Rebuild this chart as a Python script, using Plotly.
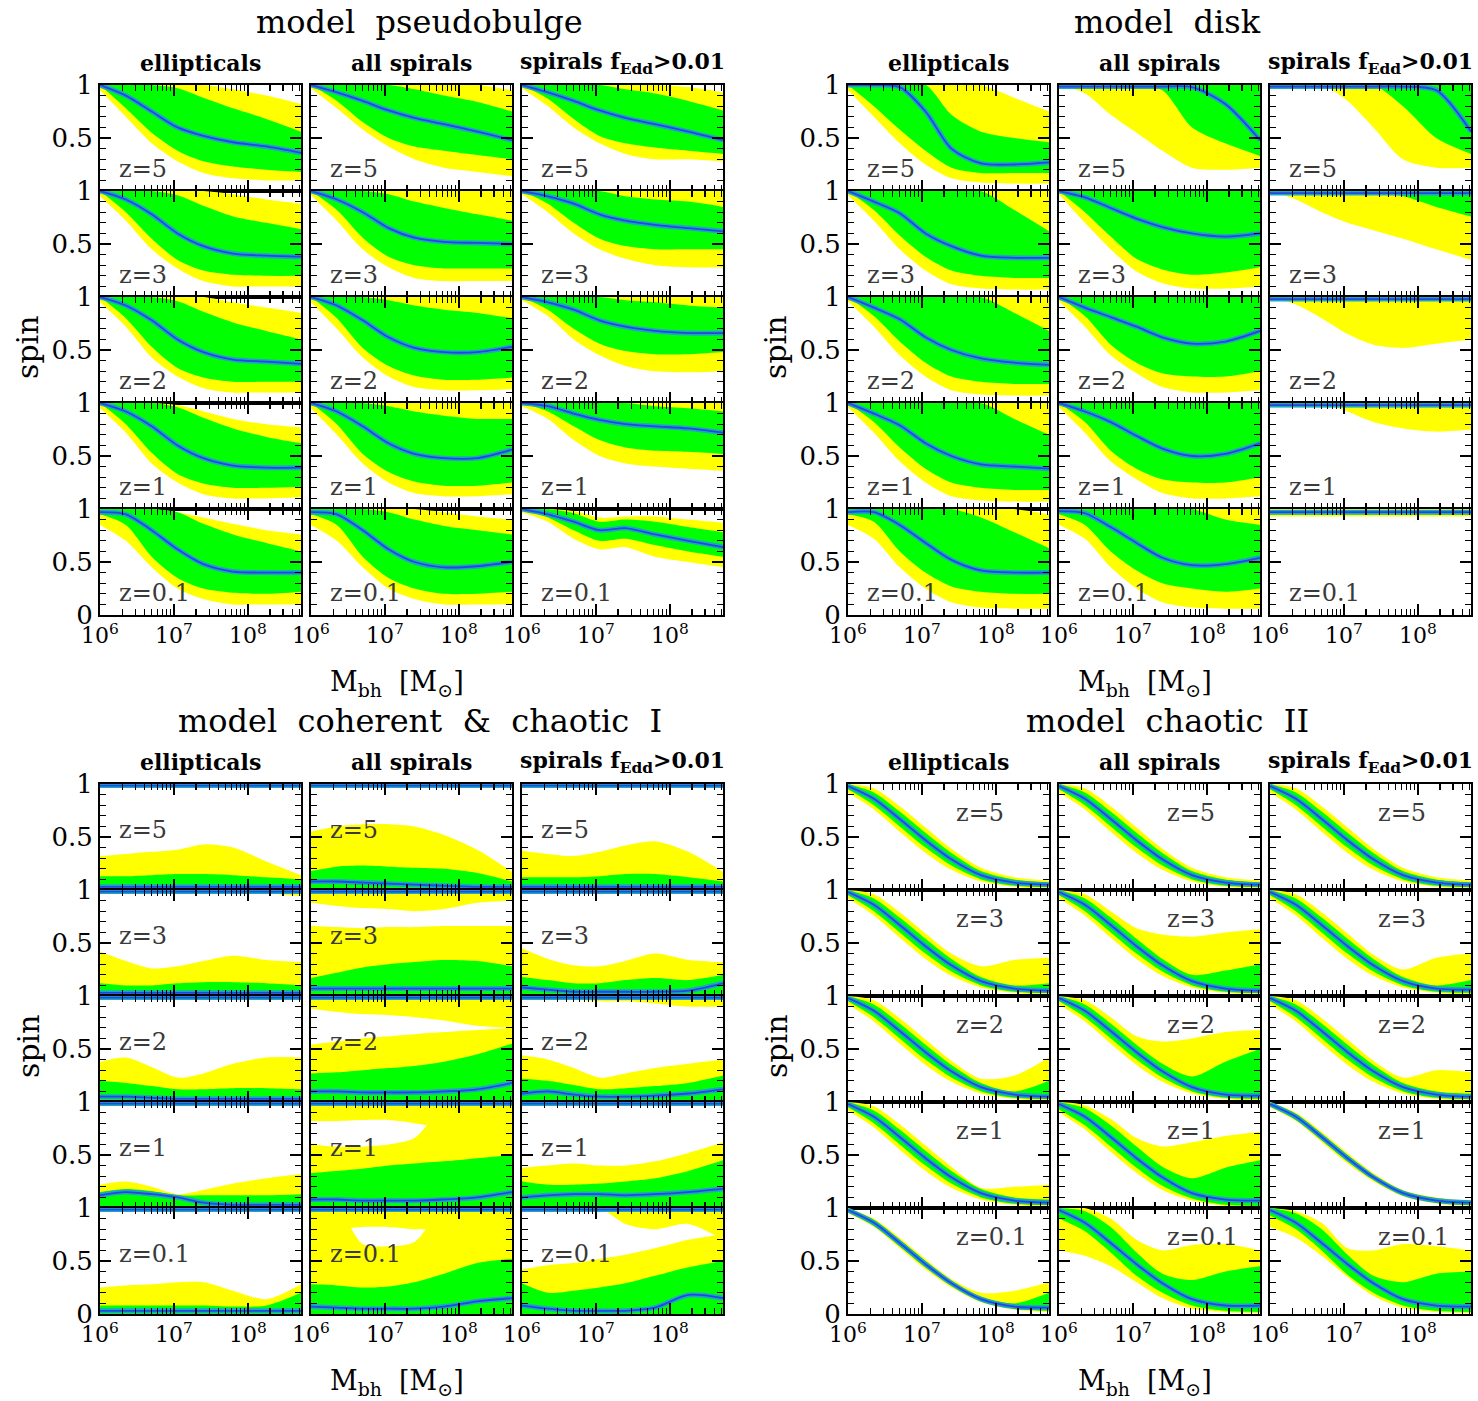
import plotly.graph_objects as go

W, H = 1478, 1401

# ---------------- data ----------------
MBH = [1.0e6, 2.24e6, 5.01e6, 1.12e7, 2.51e7, 6.31e7, 1.78e8, 5.25e8]
Z_LABELS = ["z=5", "z=3", "z=2", "z=1", "z=0.1"]
COLUMN_TITLES = ["<b>ellipticals</b>", "<b>all spirals</b>", "<b>spirals f<sub>Edd</sub>&gt;0.01</b>"]
MODEL_TITLES = ["model  pseudobulge", "model  disk", "model  coherent  &amp;  chaotic  I", "model  chaotic  II"]
X_TICKVALS = [1e6, 1e7, 1e8]
X_TICKTEXT = ["10<sup>6</sup>", "10<sup>7</sup>", "10<sup>8</sup>"]
X_MINOR = [2e6, 3e6, 4e6, 5e6, 6e6, 7e6, 8e6, 9e6, 2e7, 3e7, 4e7, 5e7, 6e7, 7e7, 8e7, 9e7,
           2e8, 3e8, 4e8, 5e8]
TOP = [1.0, 1.0, 1.0, 1.0, 1.0, 1.0, 1.0, 1.0]
COH_TOPLINE = [0.985, 0.985, 0.985, 0.985, 0.985, 0.985, 0.985, 0.985]

# panel order: z=5 (ell, all, spf), z=3 (...), z=2, z=1, z=0.1
# ---- model pseudobulge ----
PB_MED = [
    [1.0, 0.90, 0.75, 0.60, 0.52, 0.46, 0.42, 0.36],
    [1.0, 0.93, 0.85, 0.76, 0.69, 0.63, 0.56, 0.48],
    [1.0, 0.93, 0.85, 0.76, 0.69, 0.63, 0.56, 0.48],
    [1.0, 0.92, 0.78, 0.60, 0.48, 0.41, 0.39, 0.38],
    [1.0, 0.92, 0.80, 0.65, 0.56, 0.52, 0.51, 0.50],
    [1.0, 0.95, 0.88, 0.78, 0.72, 0.68, 0.65, 0.62],
    [1.0, 0.92, 0.78, 0.60, 0.48, 0.41, 0.39, 0.37],
    [1.0, 0.92, 0.78, 0.62, 0.52, 0.48, 0.48, 0.53],
    [1.0, 0.95, 0.88, 0.78, 0.72, 0.68, 0.66, 0.66],
    [1.0, 0.92, 0.78, 0.60, 0.48, 0.41, 0.39, 0.39],
    [1.0, 0.92, 0.78, 0.62, 0.52, 0.48, 0.48, 0.56],
    [1.0, 0.97, 0.90, 0.84, 0.80, 0.78, 0.76, 0.72],
    [0.97, 0.95, 0.80, 0.62, 0.48, 0.41, 0.40, 0.40],
    [0.97, 0.95, 0.80, 0.62, 0.50, 0.45, 0.46, 0.50],
    [1.0, 0.95, 0.88, 0.80, 0.82, 0.76, 0.70, 0.64],
]
PB_G_HI = [
    [1, 1, 1, 0.97, 0.88, 0.78, 0.68, 0.56],
    [1, 1, 1, 1, 0.96, 0.90, 0.84, 0.75],
    [1, 1, 1, 1, 0.96, 0.92, 0.85, 0.76],
    [1, 1, 1, 0.96, 0.86, 0.76, 0.70, 0.64],
    [1, 1, 1, 0.97, 0.90, 0.84, 0.78, 0.72],
    [1, 1, 1, 1, 0.95, 0.92, 0.90, 0.85],
    [1, 1, 1, 0.96, 0.86, 0.76, 0.68, 0.60],
    [1, 1, 1, 0.97, 0.92, 0.88, 0.85, 0.80],
    [1, 1, 1, 1, 0.97, 0.95, 0.92, 0.90],
    [1, 1, 1, 0.96, 0.86, 0.76, 0.68, 0.62],
    [1, 1, 1, 0.97, 0.92, 0.88, 0.85, 0.85],
    [1, 1, 1, 1, 1, 0.97, 0.95, 0.92],
    [1, 1, 1, 0.97, 0.86, 0.76, 0.68, 0.60],
    [1, 1, 1, 0.97, 0.90, 0.84, 0.80, 0.76],
    [1, 1, 0.96, 0.88, 0.90, 0.88, 0.83, 0.78],
]
PB_G_LO = [
    [1, 0.78, 0.55, 0.38, 0.28, 0.23, 0.20, 0.18],
    [1, 0.85, 0.65, 0.50, 0.42, 0.38, 0.34, 0.30],
    [1, 0.87, 0.68, 0.52, 0.45, 0.41, 0.38, 0.35],
    [1, 0.80, 0.55, 0.35, 0.25, 0.21, 0.20, 0.20],
    [1, 0.82, 0.56, 0.38, 0.30, 0.27, 0.27, 0.27],
    [1, 0.88, 0.70, 0.55, 0.48, 0.45, 0.45, 0.45],
    [1, 0.80, 0.53, 0.33, 0.24, 0.20, 0.20, 0.20],
    [1, 0.80, 0.52, 0.35, 0.26, 0.22, 0.22, 0.24],
    [1, 0.88, 0.70, 0.56, 0.49, 0.46, 0.46, 0.48],
    [1, 0.80, 0.53, 0.33, 0.24, 0.20, 0.20, 0.21],
    [1, 0.80, 0.52, 0.35, 0.26, 0.22, 0.22, 0.25],
    [1, 0.92, 0.78, 0.65, 0.58, 0.55, 0.54, 0.52],
    [0.95, 0.85, 0.55, 0.35, 0.25, 0.21, 0.20, 0.22],
    [0.95, 0.85, 0.55, 0.35, 0.25, 0.20, 0.20, 0.22],
    [1, 0.92, 0.80, 0.70, 0.72, 0.66, 0.60, 0.55],
]
PB_Y_HI = [
    [1, 1, 1, 1, 1, 0.96, 0.90, 0.82],
    [1, 1, 1, 1, 1, 1, 1, 0.95],
    [1, 1, 1, 1, 1, 1, 0.98, 0.93],
    [1, 1, 1, 1, 1, 0.97, 0.92, 0.88],
    [1, 1, 1, 1, 1, 1, 1, 1],
    [1, 1, 1, 1, 1, 1, 1, 1],
    [1, 1, 1, 1, 1, 0.95, 0.90, 0.85],
    [1, 1, 1, 1, 1, 1, 1, 1],
    [1, 1, 1, 1, 1, 1, 1, 1],
    [1, 1, 1, 0.98, 0.92, 0.85, 0.80, 0.77],
    [1, 1, 1, 1, 1, 1, 1, 1],
    [1, 1, 1, 1, 1, 1, 1, 1],
    [1, 1, 1, 0.97, 0.92, 0.86, 0.80, 0.76],
    [1, 1, 1, 1, 1, 0.97, 0.93, 0.90],
    [1, 1, 0.98, 0.92, 0.93, 0.93, 0.90, 0.87],
]
PB_Y_LO = [
    [0.95, 0.70, 0.45, 0.28, 0.17, 0.12, 0.10, 0.10],
    [0.97, 0.78, 0.58, 0.42, 0.30, 0.22, 0.18, 0.14],
    [0.97, 0.80, 0.60, 0.45, 0.35, 0.30, 0.30, 0.28],
    [0.95, 0.72, 0.45, 0.27, 0.15, 0.10, 0.10, 0.10],
    [0.96, 0.72, 0.45, 0.28, 0.18, 0.15, 0.15, 0.15],
    [0.97, 0.80, 0.60, 0.45, 0.36, 0.30, 0.28, 0.28],
    [0.95, 0.72, 0.43, 0.25, 0.14, 0.10, 0.10, 0.10],
    [0.95, 0.70, 0.43, 0.25, 0.15, 0.12, 0.12, 0.13],
    [0.97, 0.82, 0.60, 0.45, 0.35, 0.30, 0.29, 0.30],
    [0.95, 0.72, 0.43, 0.25, 0.14, 0.10, 0.10, 0.11],
    [0.95, 0.70, 0.43, 0.25, 0.15, 0.12, 0.12, 0.14],
    [0.97, 0.85, 0.65, 0.50, 0.43, 0.40, 0.38, 0.36],
    [0.85, 0.70, 0.45, 0.25, 0.15, 0.10, 0.10, 0.10],
    [0.85, 0.70, 0.45, 0.25, 0.15, 0.10, 0.10, 0.10],
    [0.97, 0.88, 0.72, 0.62, 0.64, 0.55, 0.50, 0.45],
]

# ---- model disk ----
DK_MED = [
    [1.0, 1.0, 0.98, 0.75, 0.40, 0.26, 0.25, 0.27],
    [0.985, 0.985, 0.985, 0.985, 0.985, 0.98, 0.82, 0.48],
    [0.985, 0.985, 0.985, 0.985, 0.985, 0.985, 0.95, 0.56],
    [1.0, 0.90, 0.79, 0.60, 0.48, 0.39, 0.37, 0.37],
    [1.0, 0.94, 0.84, 0.74, 0.66, 0.60, 0.57, 0.60],
    [0.98, 0.98, 0.98, 0.98, 0.98, 0.98, 0.98, 0.98],
    [1.0, 0.90, 0.79, 0.62, 0.50, 0.42, 0.38, 0.36],
    [1.0, 0.90, 0.81, 0.72, 0.62, 0.56, 0.58, 0.68],
    [0.98, 0.98, 0.98, 0.98, 0.98, 0.98, 0.98, 0.98],
    [1.0, 0.90, 0.79, 0.62, 0.50, 0.42, 0.40, 0.38],
    [1.0, 0.92, 0.82, 0.69, 0.57, 0.50, 0.52, 0.62],
    [0.98, 0.98, 0.98, 0.98, 0.98, 0.98, 0.98, 0.98],
    [0.97, 0.97, 0.85, 0.68, 0.52, 0.42, 0.40, 0.40],
    [0.98, 0.96, 0.83, 0.68, 0.54, 0.47, 0.48, 0.54],
    [0.97, 0.97, 0.97, 0.97, 0.97, 0.97, 0.97, 0.97],
]
DK_G_HI = [
    [1, 1, 1, 1, 0.72, 0.56, 0.50, 0.46],
    [1, 1, 1, 1, 1, 1, 1, 1],
    [1, 1, 1, 1, 1, 1, 1, 1],
    [1, 1, 1, 1, 1, 1, 0.82, 0.62],
    [1, 1, 1, 1, 1, 1, 1, 1],
    [1, 1, 1, 1, 1, 1, 1, 1],
    [1, 1, 1, 1, 1, 1, 0.85, 0.68],
    [1, 1, 1, 1, 1, 1, 1, 1],
    [1, 1, 1, 1, 1, 1, 1, 1],
    [1, 1, 1, 1, 1, 1, 0.85, 0.70],
    [1, 1, 1, 1, 1, 1, 1, 1],
    [1, 1, 1, 1, 1, 1, 1, 1],
    [1, 1, 1, 1, 1, 0.92, 0.78, 0.63],
    [1, 1, 1, 1, 1, 1, 0.90, 0.85],
    [0.99, 0.99, 0.99, 0.99, 0.99, 0.99, 0.99, 0.99],
]
DK_G_LO = [
    [1, 0.80, 0.58, 0.38, 0.22, 0.17, 0.17, 0.17],
    [1, 1, 1, 1, 0.95, 0.60, 0.45, 0.33],
    [1, 1, 1, 1, 1, 0.80, 0.50, 0.35],
    [1, 0.82, 0.58, 0.38, 0.25, 0.20, 0.18, 0.18],
    [1, 0.80, 0.57, 0.36, 0.26, 0.21, 0.23, 0.28],
    [1, 1, 1, 1, 0.98, 0.95, 0.85, 0.76],
    [1, 0.82, 0.58, 0.38, 0.25, 0.20, 0.18, 0.18],
    [1, 0.82, 0.55, 0.38, 0.28, 0.25, 0.25, 0.30],
    [0.97, 0.97, 0.97, 0.97, 0.97, 0.97, 0.97, 0.97],
    [1, 0.82, 0.58, 0.38, 0.25, 0.20, 0.18, 0.18],
    [1, 0.82, 0.55, 0.38, 0.28, 0.25, 0.25, 0.30],
    [0.96, 0.96, 0.96, 0.96, 0.96, 0.96, 0.96, 0.96],
    [0.95, 0.88, 0.60, 0.40, 0.27, 0.22, 0.20, 0.20],
    [0.95, 0.85, 0.60, 0.42, 0.30, 0.25, 0.22, 0.25],
    [0.95, 0.95, 0.95, 0.95, 0.95, 0.95, 0.95, 0.95],
]
DK_Y_HI = [
    [1, 1, 1, 1, 1, 1, 0.88, 0.75],
    [1, 1, 1, 1, 1, 1, 1, 1],
    [1, 1, 1, 1, 1, 1, 1, 1],
    [1, 1, 1, 1, 1, 1, 1, 1],
    [1, 1, 1, 1, 1, 1, 1, 1],
    [1, 1, 1, 1, 1, 1, 1, 1],
    [1, 1, 1, 1, 1, 1, 1, 1],
    [1, 1, 1, 1, 1, 1, 1, 1],
    [1, 1, 1, 1, 1, 1, 1, 1],
    [1, 1, 1, 1, 1, 1, 1, 1],
    [1, 1, 1, 1, 1, 1, 1, 1],
    [1, 1, 1, 1, 1, 1, 1, 1],
    [1, 1, 1, 1, 1, 1, 1, 0.95],
    [1, 1, 1, 1, 1, 1, 1, 1],
    [1, 1, 1, 1, 1, 1, 1, 1],
]
DK_Y_LO = [
    [0.95, 0.70, 0.45, 0.25, 0.12, 0.08, 0.07, 0.07],
    [1, 0.92, 0.72, 0.55, 0.38, 0.22, 0.20, 0.22],
    [1, 1, 1, 0.85, 0.60, 0.30, 0.22, 0.22],
    [0.96, 0.72, 0.45, 0.25, 0.12, 0.08, 0.07, 0.07],
    [0.97, 0.70, 0.45, 0.24, 0.13, 0.08, 0.08, 0.10],
    [1, 0.92, 0.80, 0.70, 0.63, 0.55, 0.45, 0.35],
    [0.96, 0.72, 0.45, 0.25, 0.12, 0.08, 0.07, 0.07],
    [0.96, 0.72, 0.45, 0.28, 0.15, 0.10, 0.10, 0.12],
    [1, 0.93, 0.80, 0.65, 0.55, 0.52, 0.56, 0.60],
    [0.96, 0.72, 0.45, 0.25, 0.12, 0.08, 0.07, 0.07],
    [0.96, 0.72, 0.45, 0.28, 0.15, 0.10, 0.10, 0.12],
    [1, 1, 1, 0.92, 0.82, 0.76, 0.73, 0.75],
    [0.85, 0.72, 0.45, 0.25, 0.12, 0.07, 0.06, 0.06],
    [0.85, 0.72, 0.45, 0.25, 0.12, 0.07, 0.06, 0.06],
    [0.93, 0.93, 0.93, 0.93, 0.93, 0.93, 0.93, 0.93],
]

# ---- model coherent & chaotic I ----
CO_MED = [
    [0.03, 0.03, 0.03, 0.03, 0.03, 0.03, 0.03, 0.03],
    [0.08, 0.08, 0.07, 0.06, 0.05, 0.04, 0.03, 0.03],
    [0.03, 0.03, 0.03, 0.03, 0.03, 0.03, 0.03, 0.03],
    [0.03, 0.03, 0.03, 0.03, 0.03, 0.03, 0.03, 0.03],
    [0.07, 0.07, 0.07, 0.07, 0.07, 0.07, 0.07, 0.07],
    [0.08, 0.06, 0.04, 0.04, 0.04, 0.04, 0.05, 0.12],
    [0.05, 0.05, 0.04, 0.03, 0.03, 0.03, 0.03, 0.03],
    [0.10, 0.10, 0.09, 0.09, 0.09, 0.10, 0.12, 0.18],
    [0.08, 0.10, 0.07, 0.05, 0.05, 0.06, 0.08, 0.12],
    [0.12, 0.15, 0.13, 0.10, 0.05, 0.03, 0.03, 0.03],
    [0.08, 0.08, 0.07, 0.07, 0.07, 0.08, 0.10, 0.15],
    [0.10, 0.12, 0.13, 0.13, 0.12, 0.13, 0.15, 0.18],
    [0.03, 0.03, 0.03, 0.03, 0.03, 0.03, 0.03, 0.03],
    [0.07, 0.06, 0.05, 0.05, 0.05, 0.07, 0.12, 0.15],
    [0.08, 0.05, 0.03, 0.03, 0.03, 0.06, 0.18, 0.15],
]
CO_G_HI = [
    [0.13, 0.13, 0.14, 0.15, 0.15, 0.14, 0.12, 0.10],
    [0.18, 0.22, 0.23, 0.22, 0.21, 0.20, 0.16, 0.08],
    [0.12, 0.12, 0.12, 0.13, 0.15, 0.15, 0.12, 0.08],
    [0.12, 0.10, 0.10, 0.12, 0.13, 0.13, 0.12, 0.10],
    [0.17, 0.22, 0.27, 0.30, 0.32, 0.34, 0.33, 0.28],
    [0.18, 0.15, 0.12, 0.12, 0.15, 0.17, 0.15, 0.20],
    [0.20, 0.18, 0.15, 0.12, 0.12, 0.13, 0.13, 0.12],
    [0.27, 0.28, 0.30, 0.32, 0.34, 0.38, 0.45, 0.55],
    [0.22, 0.20, 0.16, 0.12, 0.13, 0.15, 0.18, 0.25],
    [0.15, 0.18, 0.16, 0.12, 0.12, 0.12, 0.12, 0.13],
    [0.33, 0.35, 0.37, 0.40, 0.42, 0.44, 0.47, 0.50],
    [0.25, 0.22, 0.22, 0.23, 0.25, 0.28, 0.35, 0.45],
    [0.08, 0.08, 0.08, 0.08, 0.08, 0.07, 0.08, 0.20],
    [0.28, 0.27, 0.25, 0.26, 0.30, 0.38, 0.48, 0.52],
    [0.29, 0.20, 0.22, 0.25, 0.29, 0.36, 0.44, 0.50],
]
CO_G_LO = [
    [0, 0, 0, 0, 0, 0, 0, 0], [0, 0, 0, 0, 0, 0, 0, 0], [0, 0, 0, 0, 0, 0, 0, 0],
    [0, 0, 0, 0, 0, 0, 0, 0], [0, 0, 0, 0, 0, 0, 0, 0], [0, 0, 0, 0, 0, 0, 0, 0],
    [0, 0, 0, 0, 0, 0, 0, 0], [0, 0, 0, 0, 0, 0, 0, 0], [0, 0, 0, 0, 0, 0, 0, 0],
    [0, 0, 0, 0, 0, 0, 0, 0], [0, 0, 0, 0, 0, 0, 0, 0], [0, 0, 0, 0, 0, 0, 0, 0],
    [0, 0, 0, 0, 0, 0, 0, 0], [0, 0, 0, 0, 0, 0, 0, 0], [0, 0, 0, 0, 0, 0, 0, 0],
]
CO_Y_HI = [
    [0.32, 0.34, 0.36, 0.38, 0.43, 0.40, 0.27, 0.14],
    [0.55, 0.60, 0.62, 0.62, 0.60, 0.52, 0.38, 0.17],
    [0.37, 0.34, 0.32, 0.36, 0.42, 0.46, 0.36, 0.17],
    [0.42, 0.33, 0.26, 0.28, 0.33, 0.38, 0.34, 0.32],
    [0.66, 0.65, 0.64, 0.65, 0.65, 0.66, 0.66, 0.66],
    [0.45, 0.35, 0.29, 0.28, 0.33, 0.40, 0.34, 0.32],
    [0.38, 0.42, 0.33, 0.23, 0.27, 0.36, 0.42, 0.42],
    [0.54, 0.57, 0.60, 0.62, 0.64, 0.66, 0.68, 0.70],
    [0.44, 0.40, 0.32, 0.23, 0.27, 0.32, 0.36, 0.40],
    [0.22, 0.25, 0.20, 0.13, 0.17, 0.23, 0.28, 0.32],
    [0.60, 0.58, 0.58, 0.60, 0.66, 0.95, 1.0, 1.0],
    [0.38, 0.40, 0.42, 0.40, 0.40, 0.44, 0.52, 0.62],
    [0.25, 0.27, 0.28, 0.30, 0.30, 0.22, 0.14, 0.28],
    [1.0, 1.0, 0.66, 0.64, 0.68, 1.0, 1.0, 1.0],
    [0.42, 0.46, 0.48, 0.52, 0.56, 0.62, 0.70, 0.75],
]
CO_Y_LO = CO_G_LO
# lower edge of the upper yellow region (1 = no upper region)
CO_Y2_LO = [
    [1, 1, 1, 1, 1, 1, 1, 1],
    [1, 1, 1, 1, 1, 1, 1, 1],
    [1, 1, 1, 1, 1, 1, 1, 1],
    [1, 1, 1, 1, 1, 1, 0.97, 0.94],
    [0.88, 0.85, 0.83, 0.82, 0.80, 0.82, 0.88, 0.90],
    [1, 1, 1, 1, 1, 1, 1, 1],
    [1, 1, 1, 1, 1, 1, 1, 1],
    [0.88, 0.85, 0.83, 0.82, 0.80, 0.77, 0.72, 0.70],
    [1, 1, 0.97, 0.95, 0.95, 0.93, 0.90, 0.90],
    [1, 1, 1, 1, 1, 1, 1, 1],
    [0.82, 0.82, 0.83, 0.83, 0.80, 0.75, 0.70, 0.70],
    [1, 1, 1, 1, 1, 1, 1, 1],
    [1, 1, 1, 1, 1, 1, 1, 1],
    [0.80, 0.80, 0.82, 0.82, 0.80, 0.80, 0.80, 0.80],
    [1, 1, 1, 1, 0.85, 0.80, 0.85, 0.70],
]

# ---- model chaotic II ----
CH_MED = [
    [0.98, 0.86, 0.67, 0.47, 0.29, 0.14, 0.07, 0.05],
    [0.98, 0.86, 0.67, 0.47, 0.29, 0.14, 0.07, 0.05],
    [0.98, 0.86, 0.67, 0.47, 0.29, 0.14, 0.07, 0.05],
    [0.98, 0.86, 0.67, 0.47, 0.29, 0.14, 0.07, 0.05],
    [0.98, 0.86, 0.67, 0.47, 0.29, 0.14, 0.07, 0.05],
    [0.98, 0.86, 0.67, 0.47, 0.29, 0.14, 0.07, 0.06],
    [0.98, 0.86, 0.67, 0.47, 0.29, 0.14, 0.07, 0.05],
    [0.98, 0.86, 0.67, 0.47, 0.29, 0.14, 0.07, 0.06],
    [0.98, 0.86, 0.67, 0.47, 0.29, 0.14, 0.07, 0.05],
    [0.98, 0.86, 0.67, 0.47, 0.29, 0.14, 0.07, 0.05],
    [0.98, 0.86, 0.67, 0.47, 0.29, 0.14, 0.08, 0.07],
    [0.98, 0.86, 0.67, 0.47, 0.29, 0.14, 0.07, 0.05],
    [0.98, 0.86, 0.67, 0.47, 0.29, 0.14, 0.07, 0.06],
    [0.98, 0.86, 0.67, 0.47, 0.29, 0.14, 0.08, 0.08],
    [0.98, 0.86, 0.67, 0.47, 0.29, 0.14, 0.08, 0.07],
]
CH_G_HI = [
    [1.0, 0.92, 0.74, 0.54, 0.35, 0.18, 0.10, 0.07],
    [1.0, 0.92, 0.74, 0.54, 0.35, 0.18, 0.10, 0.07],
    [1.0, 0.92, 0.74, 0.54, 0.35, 0.18, 0.10, 0.07],
    [1.0, 0.92, 0.74, 0.54, 0.35, 0.18, 0.10, 0.12],
    [1.0, 0.92, 0.74, 0.54, 0.35, 0.20, 0.24, 0.30],
    [1.0, 0.92, 0.74, 0.54, 0.35, 0.18, 0.10, 0.15],
    [1.0, 0.92, 0.74, 0.54, 0.35, 0.18, 0.10, 0.20],
    [1.0, 0.92, 0.74, 0.54, 0.36, 0.24, 0.38, 0.50],
    [1.0, 0.92, 0.74, 0.54, 0.35, 0.18, 0.10, 0.08],
    [1.0, 0.92, 0.74, 0.54, 0.35, 0.18, 0.10, 0.08],
    [1.0, 0.94, 0.78, 0.58, 0.39, 0.28, 0.38, 0.45],
    [0.99, 0.89, 0.70, 0.50, 0.31, 0.16, 0.09, 0.06],
    [0.99, 0.89, 0.70, 0.50, 0.31, 0.16, 0.10, 0.20],
    [1.0, 0.97, 0.82, 0.58, 0.38, 0.32, 0.40, 0.45],
    [1.0, 0.95, 0.80, 0.56, 0.36, 0.30, 0.38, 0.40],
]
CH_G_LO = [
    [0.95, 0.80, 0.60, 0.40, 0.23, 0.10, 0.04, 0.03],
    [0.95, 0.80, 0.60, 0.40, 0.23, 0.10, 0.04, 0.03],
    [0.95, 0.80, 0.60, 0.40, 0.23, 0.10, 0.04, 0.03],
    [0.95, 0.80, 0.60, 0.40, 0.23, 0.10, 0.04, 0.03],
    [0.95, 0.80, 0.60, 0.40, 0.23, 0.10, 0.04, 0.03],
    [0.95, 0.80, 0.60, 0.40, 0.23, 0.10, 0.04, 0.03],
    [0.95, 0.80, 0.60, 0.40, 0.23, 0.10, 0.04, 0.03],
    [0.95, 0.80, 0.60, 0.40, 0.23, 0.10, 0.04, 0.03],
    [0.95, 0.80, 0.60, 0.40, 0.23, 0.10, 0.04, 0.03],
    [0.95, 0.80, 0.60, 0.40, 0.23, 0.10, 0.04, 0.03],
    [0.93, 0.78, 0.58, 0.38, 0.21, 0.09, 0.03, 0.02],
    [0.96, 0.83, 0.64, 0.44, 0.27, 0.12, 0.05, 0.03],
    [0.96, 0.83, 0.64, 0.44, 0.27, 0.12, 0.05, 0.03],
    [0.90, 0.78, 0.58, 0.36, 0.20, 0.08, 0.03, 0.02],
    [0.93, 0.80, 0.60, 0.37, 0.20, 0.08, 0.03, 0.02],
]
CH_Y_HI = [
    [1.0, 0.96, 0.79, 0.59, 0.39, 0.21, 0.12, 0.09],
    [1.0, 0.96, 0.79, 0.59, 0.39, 0.21, 0.12, 0.09],
    [1.0, 0.96, 0.79, 0.59, 0.39, 0.21, 0.12, 0.09],
    [1.0, 0.96, 0.79, 0.59, 0.40, 0.28, 0.34, 0.36],
    [1.0, 0.96, 0.80, 0.64, 0.58, 0.56, 0.60, 0.63],
    [1.0, 0.96, 0.79, 0.59, 0.39, 0.25, 0.36, 0.40],
    [1.0, 0.96, 0.79, 0.59, 0.39, 0.22, 0.25, 0.42],
    [1.0, 0.96, 0.80, 0.62, 0.57, 0.60, 0.66, 0.68],
    [1.0, 0.96, 0.79, 0.59, 0.39, 0.23, 0.30, 0.28],
    [1.0, 0.96, 0.79, 0.59, 0.39, 0.19, 0.20, 0.22],
    [1.0, 0.97, 0.84, 0.66, 0.58, 0.62, 0.68, 0.72],
    [1.0, 0.90, 0.72, 0.52, 0.33, 0.17, 0.10, 0.07],
    [1.0, 0.90, 0.72, 0.52, 0.33, 0.20, 0.22, 0.30],
    [1.0, 1.0, 0.90, 0.70, 0.60, 0.65, 0.66, 0.60],
    [1.0, 0.97, 0.86, 0.62, 0.60, 0.66, 0.64, 0.60],
]
CH_Y_LO = [
    [0.92, 0.76, 0.55, 0.35, 0.19, 0.08, 0.03, 0.01],
    [0.92, 0.76, 0.55, 0.35, 0.19, 0.08, 0.03, 0.01],
    [0.92, 0.76, 0.55, 0.35, 0.19, 0.08, 0.03, 0.01],
    [0.92, 0.76, 0.55, 0.35, 0.19, 0.08, 0.03, 0.01],
    [0.92, 0.76, 0.55, 0.35, 0.19, 0.08, 0.03, 0.01],
    [0.92, 0.76, 0.55, 0.35, 0.19, 0.08, 0.03, 0.01],
    [0.92, 0.76, 0.55, 0.35, 0.19, 0.08, 0.03, 0.01],
    [0.92, 0.76, 0.55, 0.35, 0.19, 0.08, 0.03, 0.01],
    [0.92, 0.76, 0.55, 0.35, 0.19, 0.08, 0.03, 0.01],
    [0.92, 0.76, 0.55, 0.35, 0.19, 0.08, 0.03, 0.01],
    [0.90, 0.74, 0.53, 0.33, 0.17, 0.07, 0.02, 0.01],
    [0.95, 0.82, 0.62, 0.42, 0.25, 0.11, 0.04, 0.02],
    [0.95, 0.82, 0.62, 0.42, 0.25, 0.11, 0.04, 0.02],
    [0.60, 0.55, 0.45, 0.30, 0.15, 0.05, 0.02, 0.01],
    [0.82, 0.72, 0.55, 0.35, 0.17, 0.06, 0.02, 0.01],
]

# ---------------- layout helpers ----------------
YELLOW = "#ffff00"
GREEN = "#00ff00"
TEAL = "#1aa6c4"
BLUE = "#2546e0"
FONT = "DejaVu Serif"

COL_LEFT = {"L": [100, 311, 522], "R": [848, 1059, 1270]}
PW, PH = 201, 106
ROW_TOP = {"T": 85, "B": 784}

models = [
    dict(key="pb", side="L", vert="T", title=MODEL_TITLES[0], med=PB_MED, ghi=PB_G_HI, glo=PB_G_LO,
         yhi=PB_Y_HI, ylo=PB_Y_LO, y2=None, zpos="bl"),
    dict(key="dk", side="R", vert="T", title=MODEL_TITLES[1], med=DK_MED, ghi=DK_G_HI, glo=DK_G_LO,
         yhi=DK_Y_HI, ylo=DK_Y_LO, y2=None, zpos="bl"),
    dict(key="co", side="L", vert="B", title=MODEL_TITLES[2], med=CO_MED, ghi=CO_G_HI, glo=CO_G_LO,
         yhi=CO_Y_HI, ylo=CO_Y_LO, y2=CO_Y2_LO, zpos="tl"),
    dict(key="ch", side="R", vert="B", title=MODEL_TITLES[3], med=CH_MED, ghi=CH_G_HI, glo=CH_G_LO,
         yhi=CH_Y_HI, ylo=CH_Y_LO, y2=None, zpos="tr"),
]

fig = go.Figure()
layout = dict(width=W, height=H, margin=dict(l=0, r=0, t=0, b=0, pad=0, autoexpand=False),
              autosize=False, paper_bgcolor="white", plot_bgcolor="white", showlegend=False)
annotations = []


def px_x(x):
    return x / W


def px_y(y):
    return 1 - y / H


def band(xa, ya, lo, hi, color):
    fig.add_trace(go.Scatter(x=MBH, y=lo, xaxis=xa, yaxis=ya, mode="lines",
                             line=dict(width=0, shape="spline", smoothing=0.8),
                             hoverinfo="skip"))
    fig.add_trace(go.Scatter(x=MBH, y=hi, xaxis=xa, yaxis=ya, mode="lines", fill="tonexty",
                             fillcolor=color, line=dict(width=0, shape="spline", smoothing=0.8),
                             hoverinfo="skip"))


def curve(xa, ya, vals):
    fig.add_trace(go.Scatter(x=MBH, y=vals, xaxis=xa, yaxis=ya, mode="lines",
                             line=dict(width=5, color=TEAL, shape="spline", smoothing=0.8),
                             hoverinfo="skip"))
    fig.add_trace(go.Scatter(x=MBH, y=vals, xaxis=xa, yaxis=ya, mode="lines",
                             line=dict(width=1.8, color=BLUE, shape="spline", smoothing=0.8),
                             hoverinfo="skip"))


n = 0
for m in models:
    lefts = COL_LEFT[m["side"]]
    top0 = ROW_TOP[m["vert"]]
    for r in range(5):
        for c in range(3):
            n += 1
            p = r * 3 + c
            xa = "x" if n == 1 else f"x{n}"
            ya = "y" if n == 1 else f"y{n}"
            x0 = lefts[c]
            t = top0 + r * PH
            bottom_row = (r == 4)
            layout["xaxis" if n == 1 else f"xaxis{n}"] = dict(
                domain=[px_x(x0), px_x(x0 + PW)], anchor=ya, type="log",
                range=[6.0, 8.72], showgrid=False, zeroline=False, automargin=False,
                showline=True, linecolor="black", linewidth=2, mirror="allticks",
                ticks="inside", ticklen=11, tickwidth=1.6, tickcolor="black",
                tickvals=X_TICKVALS, ticktext=X_TICKTEXT,
                showticklabels=bottom_row,
                tickfont=dict(family=FONT, size=22, color="black"),
                minor=dict(tickvals=X_MINOR, ticks="inside", ticklen=6, tickwidth=1.3,
                           tickcolor="black", showgrid=False),
                fixedrange=True,
            )
            layout["yaxis" if n == 1 else f"yaxis{n}"] = dict(
                domain=[px_y(t + PH), px_y(t)], anchor=xa, range=[0, 1],
                showgrid=False, zeroline=False, automargin=False,
                showline=True, linecolor="black", linewidth=2, mirror="allticks",
                ticks="inside", ticklen=11, tickwidth=1.6, tickcolor="black",
                tickvals=[0, 0.5, 1], ticktext=["0" if bottom_row else "", "0.5", "1"],
                showticklabels=(c == 0),
                tickfont=dict(family=FONT, size=26, color="black"),
                minor=dict(dtick=0.1, tick0=0, ticks="inside", ticklen=6, tickwidth=1.3,
                           tickcolor="black", showgrid=False),
                fixedrange=True,
            )
            # data
            band(xa, ya, m["ylo"][p], m["yhi"][p], YELLOW)
            if m["y2"] is not None:
                band(xa, ya, m["y2"][p], TOP, YELLOW)
            band(xa, ya, m["glo"][p], m["ghi"][p], GREEN)
            if m["key"] == "co":
                curve(xa, ya, COH_TOPLINE)
            curve(xa, ya, m["med"][p])

            # z label
            if m["zpos"] == "bl":
                ax, ay = x0 + 17, t + PH - 22
            elif m["zpos"] == "tl":
                ax, ay = x0 + 17, t + 46
            else:
                ax, ay = x0 + 106, t + 29
            annotations.append(dict(x=px_x(ax), y=px_y(ay), xref="paper", yref="paper",
                                    text=Z_LABELS[r], showarrow=False, xanchor="left",
                                    yanchor="middle",
                                    font=dict(family=FONT, size=24, color="#3a3a3a")))
            # column headers
            if r == 0:
                annotations.append(dict(x=px_x(x0 + PW / 2), y=px_y(t - 22), xref="paper",
                                        yref="paper", text=COLUMN_TITLES[c], showarrow=False,
                                        xanchor="center", yanchor="middle",
                                        font=dict(family=FONT, size=22, color="black")))
    # block title
    bl = lefts[0]
    br = lefts[2] + PW
    annotations.append(dict(x=px_x((bl + br) / 2 + 8), y=px_y(top0 - 63), xref="paper", yref="paper",
                            text=m["title"], showarrow=False, xanchor="center", yanchor="middle",
                            font=dict(family=FONT, size=32, color="black")))
    # spin label
    annotations.append(dict(x=px_x(bl - 72), y=px_y(top0 + 262), xref="paper", yref="paper",
                            text="spin", showarrow=False, textangle=-90, xanchor="center",
                            yanchor="middle", font=dict(family=FONT, size=30, color="black")))
    # x axis title
    annotations.append(dict(x=px_x(lefts[1] + PW / 2 - 15), y=px_y(top0 + 598), xref="paper",
                            yref="paper", text="M<sub>bh</sub>  [M<sub>⊙</sub>]", showarrow=False,
                            xanchor="center", yanchor="middle",
                            font=dict(family=FONT, size=27, color="black")))

layout["annotations"] = annotations
fig.update_layout(**layout)
fig.write_html("out.html", config={"displayModeBar": False, "staticPlot": True},
               post_script="document.body.style.margin='0px';document.body.style.padding='0px';"
                           "document.documentElement.style.overflow='hidden';")
